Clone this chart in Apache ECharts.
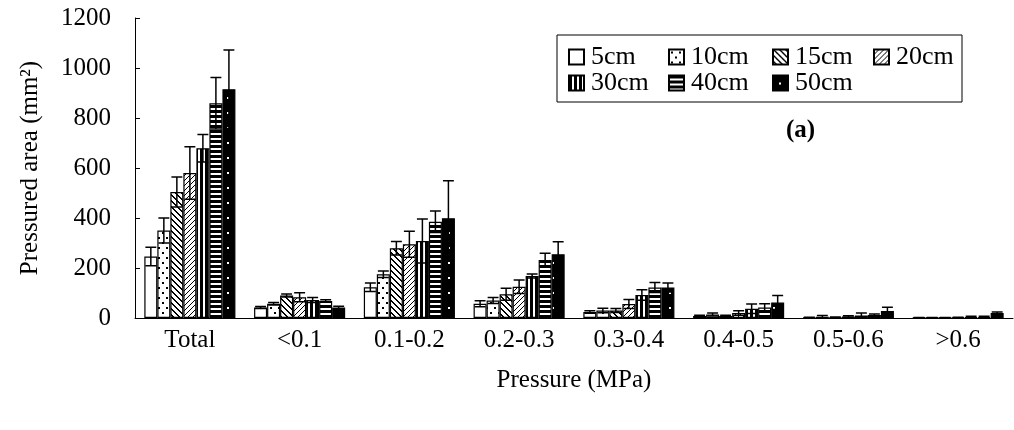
<!DOCTYPE html>
<html>
<head>
<meta charset="utf-8">
<script src="https://cdn.jsdelivr.net/npm/echarts@6/dist/echarts.min.js"></script>
<style>
  html, body { margin: 0; padding: 0; background: #fff; }
  #chart { width: 1014px; height: 430px; }
</style>
</head>
<body>
<div id="chart"></div>
<script>
const categories = ["Total", "<0.1", "0.1-0.2", "0.2-0.3", "0.3-0.4", "0.4-0.5", "0.5-0.6", ">0.6"];
const depths = ["5cm", "10cm", "15cm", "20cm", "30cm", "40cm", "50cm"];

// mean pressured area (mm2) and error bar size for each depth
const mean5 = [246, 42, 123, 57, 24, 8, 2, 1];
const err5 = [37, 4, 17, 12, 5, 3, 1, 1];
const mean10 = [350, 57, 175, 70, 30, 14, 5, 1];
const err10 = [50, 5, 13, 12, 9, 6, 5, 1];
const mean15 = [504, 90, 279, 95, 30, 8, 2, 1];
const err15 = [60, 6, 27, 24, 8, 3, 2, 1];
const mean20 = [580, 83, 295, 125, 56, 20, 6, 2];
const err20 = [105, 18, 52, 27, 18, 9, 3, 1];
const mean30 = [679, 72, 308, 168, 92, 37, 10, 3];
const err30 = [55, 10, 88, 8, 21, 19, 10, 4];
const mean40 = [859, 68, 385, 232, 122, 42, 12, 4];
const err40 = [103, 5, 43, 27, 20, 15, 4, 3];
const mean50 = [915, 42, 399, 255, 122, 62, 28, 20];
const err50 = [157, 5, 150, 50, 18, 28, 15, 4];

const yTicks = [0, 200, 400, 600, 800, 1000, 1200];

const means = [mean5, mean10, mean15, mean20, mean30, mean40, mean50];
const errs = [err5, err10, err15, err20, err30, err40, err50];

const FONT = "Liberation Serif";
const GAP = 0.17;

// small tiles used as bar fills
const tile = (w, h, draw) => {
  const c = document.createElement("canvas");
  c.width = w;
  c.height = h;
  const ctx = c.getContext("2d");
  ctx.fillStyle = "#fff";
  ctx.fillRect(0, 0, w, h);
  ctx.fillStyle = "#000";
  draw(ctx);
  return { image: c, repeat: "repeat" };
};

const patterns = [
  "#ffffff",
  tile(8, 10, (ctx) => {
    ctx.fillRect(2, 2, 2, 2);
    ctx.fillRect(6, 7, 2, 2);
  }),
  tile(6, 6, (ctx) => {
    for (let i = 0; i < 6; i++) {
      ctx.fillRect(i, i, 1, 1);
      ctx.fillRect((i + 1) % 6, i, 1, 1);
    }
  }),
  tile(5, 5, (ctx) => {
    for (let i = 0; i < 5; i++) ctx.fillRect(4 - i, i, 1, 1);
  }),
  tile(5, 1, (ctx) => {
    ctx.fillRect(0, 0, 3, 1);
  }),
  tile(1, 5, (ctx) => {
    ctx.fillRect(0, 0, 1, 3);
  }),
  tile(13, 15, (ctx) => {
    ctx.fillRect(0, 0, 13, 15);
    ctx.fillStyle = "#fff";
    ctx.fillRect(6, 7, 2, 2);
  }),
];

const barSeries = depths.map((name, i) => ({
  name: name,
  type: "bar",
  barGap: "0%",
  barCategoryGap: GAP * 100 + "%",
  data: means[i],
  itemStyle: { color: patterns[i], borderColor: "#000", borderWidth: 1.2 },
  emphasis: { disabled: true },
  z: 2,
}));

const errorSeries = depths.map((name, i) => ({
  type: "custom",
  z: 3,
  silent: true,
  encode: { x: 0, y: 1 },
  data: means[i].map((v, k) => [k, v, errs[i][k]]),
  renderItem: (params, api) => {
    const k = api.value(0);
    const v = api.value(1);
    const e = api.value(2);
    const band = api.size([1, 0])[0];
    const groupW = band * (1 - GAP);
    const barW = groupW / depths.length;
    const x = api.coord([k, 0])[0] - groupW / 2 + (i + 0.5) * barW;
    const top = api.coord([k, v + e])[1];
    const bot = api.coord([k, Math.max(v - e, 0)])[1];
    const half = barW * 0.42;
    const style = { stroke: "#000", lineWidth: 1.5 };
    return {
      type: "group",
      children: [
        { type: "line", shape: { x1: x, y1: top, x2: x, y2: bot }, style: style },
        { type: "line", shape: { x1: x - half, y1: top, x2: x + half, y2: top }, style: style },
        { type: "line", shape: { x1: x - half, y1: bot, x2: x + half, y2: bot }, style: style },
      ],
    };
  },
}));

const legendBase = {
  orient: "vertical",
  top: 44,
  padding: 0,
  icon: "rect",
  itemWidth: 15,
  itemHeight: 15,
  itemGap: 0,
  selectedMode: false,
  textStyle: { fontFamily: FONT, fontSize: 26, lineHeight: 25, color: "#000", padding: [0, 0, 0, 2] },
};

const option = {
  animation: false,
  textStyle: { fontFamily: FONT },
  grid: { left: 135, right: 1, top: 18, bottom: 112, containLabel: false },
  legend: [
    { ...legendBase, left: 568, data: ["5cm", "30cm"] },
    { ...legendBase, left: 668, data: ["10cm", "40cm"] },
    { ...legendBase, left: 772, data: ["15cm", "50cm"] },
    { ...legendBase, left: 873, data: ["20cm"] },
  ],
  graphic: [
    {
      type: "rect",
      shape: { x: 557, y: 35, width: 405, height: 67 },
      style: { fill: "none", stroke: "#000", lineWidth: 1 },
    },
    {
      type: "text",
      x: 786,
      y: 118,
      style: { text: "(a)", fontFamily: FONT, fontSize: 25, fontWeight: "bold", fill: "#000" },
    },
  ],
  xAxis: {
    type: "category",
    data: categories,
    name: "Pressure (MPa)",
    nameLocation: "middle",
    nameGap: 50,
    nameTextStyle: { fontFamily: FONT, fontSize: 25, color: "#000" },
    axisLine: { lineStyle: { color: "#000", width: 1 } },
    axisTick: { inside: true, length: 8, lineStyle: { color: "#000" } },
    axisLabel: { fontFamily: FONT, fontSize: 25, color: "#000", margin: 10, interval: 0 },
    splitLine: { show: false },
  },
  yAxis: {
    type: "value",
    min: yTicks[0],
    max: yTicks[yTicks.length - 1],
    interval: yTicks[1] - yTicks[0],
    name: "Pressured area (mm²)",
    nameLocation: "middle",
    nameRotate: 90,
    nameGap: 92,
    nameTextStyle: { fontFamily: FONT, fontSize: 25, color: "#000" },
    axisLine: { show: true, lineStyle: { color: "#000", width: 1 } },
    axisTick: { show: true, inside: true, length: 5, lineStyle: { color: "#000" } },
    axisLabel: {
      fontFamily: FONT,
      fontSize: 25,
      color: "#000",
      margin: 24,
      formatter: (v) => String(v),
    },
    splitLine: { show: false },
  },
  series: barSeries.concat(errorSeries),
};

const chart = echarts.init(document.getElementById("chart"), null, { renderer: "canvas" });
chart.setOption(option);
</script>
</body>
</html>
